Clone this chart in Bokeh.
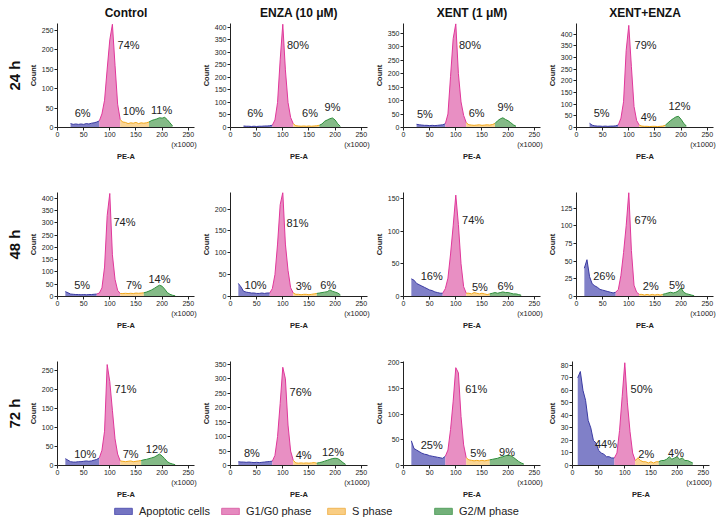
from bokeh.plotting import figure
from bokeh.layouts import column, row
from bokeh.models import (Range1d, FixedTicker, LinearAxis, Label, Title,
                          Legend, LegendItem)
from bokeh.embed import file_html
from bokeh.resources import INLINE

FONT = "Liberation Sans"

# ---------------- data ----------------
treatments = ["Control", "ENZA (10 μM)", "XENT (1 μM)", "XENT+ENZA"]
timepoints = ["24 h", "48 h", "72 h"]
phases = ["Apoptotic cells", "G1/G0 phase", "S phase", "G2/M phase"]
x_ticks = [0, 50, 100, 150, 200, 250]
BIN = 5  # PE-A spacing of the count samples (x1000)

h24_control = [10, 8, 9, 8, 9, 8, 10, 9, 11, 12, 14, 17,
               35, 70, 150, 225, 265, 160, 60, 20,
               14, 13, 10, 12, 11, 13, 10, 12, 11, 12, 14,
               18, 20, 22, 25, 24, 26, 20, 12, 4]
h24_enza = [6, 5, 5, 4, 5, 4, 5, 5, 6, 6, 7, 9,
            30, 100, 270, 412, 230, 100, 40, 15,
            7, 6, 5, 6, 5, 6, 5, 6, 7, 9,
            14, 25, 30, 35, 38, 30, 15, 5]
h24_xent = [12, 10, 9, 8, 8, 7, 8, 7, 8, 9, 10, 14,
            50, 190, 330, 385, 200, 95, 45, 18,
            10, 9, 8, 9, 10, 8, 9, 10, 9, 11, 15,
            25, 32, 36, 30, 25, 18, 10, 5]
h24_combo = [18, 10, 7, 6, 6, 5, 6, 5, 6, 6, 7, 11,
             40, 110, 330, 437, 260, 90, 30, 10,
             6, 5, 5, 4, 5, 5, 4, 5, 6, 10,
             20, 30, 38, 45, 48, 35, 18, 6]
h48_control = [20, 15, 10, 9, 8, 8, 7, 8, 7, 8, 8, 9, 10,
               14, 35, 120, 330, 420, 170, 70, 25, 12,
               12, 13, 12, 13, 12, 14, 13, 14, 15,
               18, 22, 27, 33, 40, 46, 42, 30, 16, 9, 5, 3]
h48_enza = [30, 22, 12, 10, 9, 8, 8, 7, 7, 8, 7, 8, 8,
            18, 50, 120, 210, 238, 120, 60, 20, 8,
            5, 5, 4, 5, 5, 4, 5, 6, 7,
            8, 9, 10, 11, 15, 12, 10, 8, 4]
h48_xent = [27, 25, 20, 18, 16, 14, 12, 10, 9, 7, 6, 5, 5,
            12, 28, 65, 108, 155, 110, 50, 15, 5,
            5, 4, 6, 5, 4, 5, 4, 3, 4,
            5, 6, 5, 6, 7, 6, 6, 5, 4, 4, 3, 2]
h48_combo = [40, 52, 28, 18, 15, 13, 10, 9, 8, 7, 6, 5, 6,
             10, 30, 62, 100, 147, 65, 16, 6, 3,
             3, 2, 3, 2, 3, 2, 3, 2, 3,
             4, 5, 6, 5, 6, 8, 12, 6, 4, 3, 2, 1]
h72_control = [18, 14, 10, 9, 9, 10, 10, 11, 12, 11, 12, 14, 16, 20,
               40, 90, 265, 220, 145, 70, 30, 12,
               11, 10, 11, 12, 10, 11, 12, 13,
               15, 16, 18, 20, 22, 26, 30, 25, 18, 10, 6, 4, 2]
h72_enza = [13, 12, 12, 11, 12, 11, 10, 11, 10, 11, 12, 13, 14, 15,
            35, 100, 215, 340, 300, 140, 50, 18,
            9, 8, 9, 8, 9, 8, 9, 10, 8,
            10, 12, 15, 18, 21, 24, 25, 24, 18, 10, 4]
h72_xent = [48, 33, 30, 27, 24, 22, 21, 19, 18, 17, 16, 15, 14, 18,
            30, 70, 125, 190, 180, 95, 40, 15,
            11, 10, 9, 10, 9, 10, 9, 10, 11,
            12, 13, 14, 16, 17, 19, 20, 19, 16, 12, 8, 5, 3]
h72_combo = [70, 75, 60, 52, 36, 30, 20, 18, 12, 10, 9, 7, 7, 6, 6,
             10, 28, 55, 82, 50, 27, 10, 4,
             6, 4, 3, 3, 2, 3, 2, 3, 3,
             4, 4, 5, 7, 5, 6, 7, 5, 6, 4, 4, 3, 2]

hists = [[h24_control, h24_enza, h24_xent, h24_combo],
         [h48_control, h48_enza, h48_xent, h48_combo],
         [h72_control, h72_enza, h72_xent, h72_combo]]
starts = [[25, 25, 25, 25], [15, 15, 15, 15], [15, 15, 15, 10]]
gates = [[(80, 120, 175), (80, 120, 170), (80, 120, 175), (80, 120, 170)],
         [(75, 120, 165), (75, 120, 165), (75, 120, 165), (75, 120, 165)],
         [(80, 120, 160), (80, 120, 165), (80, 120, 165), (80, 120, 165)]]
percents = [[(6, 74, 10, 11), (6, 80, 6, 9), (5, 80, 6, 9), (5, 79, 4, 12)],
            [(5, 74, 7, 14), (10, 81, 3, 6), (16, 74, 5, 6), (26, 67, 2, 5)],
            [(10, 71, 7, 12), (8, 76, 4, 12), (25, 61, 5, 9), (44, 50, 2, 4)]]
y_max = [[267, 415, 386, 445], [424, 238, 159, 147], [273, 360, 202, 83]]
y_step = [[50, 50, 50, 50], [50, 50, 50, 25], [50, 50, 50, 10]]

# ---------------- layout / style ----------------
label_pos = [
    [[(48, .14), (136, .79), (146, .16), (199, .17)],
     [(47, .14), (129, .79), (152, .14), (195, .20)],
     [(41, .13), (127, .79), (140, .14), (195, .20)],
     [(48, .14), (132, .79), (138, .10), (197, .21)]],
    [[(47, .11), (128, .72), (146, .11), (195, .17)],
     [(48, .11), (128, .71), (140, .10), (187, .11)],
     [(54, .20), (133, .74), (146, .09), (195, .10)],
     [(53, .20), (132, .74), (142, .10), (192, .11)]],
    [[(53, .11), (130, .74), (140, .11), (190, .16)],
     [(41, .12), (134, .71), (140, .10), (196, .13)],
     [(54, .20), (139, .74), (143, .12), (198, .13)],
     [(64, .21), (132, .74), (141, .11), (198, .12)]],
]
FILLS = ["#7272c2", "#e683bc", "#f9d089", "#77b37a"]
LINES = ["#3a3aa2", "#e0379a", "#f2a81c", "#2f8f3c"]
LEG_FILL = ["#7474c2", "#e589bf", "#f9cd83", "#72b079"]
LEG_LINE = ["#5656b2", "#db67a9", "#f1b654", "#56a060"]
AX = "#222222"

FW, FH = 137, 104
L1, L, R = 44, 24, 4
T1, T, B = 20, 29, 33


def panel(r, c):
    p = figure(frame_width=FW, frame_height=FH,
               x_range=Range1d(0, 262), y_range=Range1d(0, y_max[r][c]),
               output_backend="svg", toolbar_location=None,
               min_border_left=L1 if c == 0 else L, min_border_right=R,
               min_border_top=T1 if r == 0 else T, min_border_bottom=B)
    p.outline_line_color = None
    p.xgrid.visible = False
    p.ygrid.visible = False

    counts = hists[r][c]
    xs = [starts[r][c] + BIN * i for i in range(len(counts))]
    bounds = [xs[0], *gates[r][c], xs[-1]]
    segs = []
    for k in range(4):
        px = [x for x in xs if bounds[k] <= x <= bounds[k + 1]]
        py = [counts[i] for i, x in enumerate(xs) if bounds[k] <= x <= bounds[k + 1]]
        segs.append((px, py))
        p.varea(x=px, y1=[0] * len(px), y2=py, fill_color=FILLS[k], fill_alpha=0.9)
    for k, (px, py) in enumerate(segs):
        p.line(px, py, line_color=LINES[k], line_width=1)

    for ax in (p.xaxis[0], p.yaxis[0]):
        ax.axis_line_color = AX
        ax.major_tick_line_color = AX
        ax.minor_tick_line_color = None
        ax.major_tick_out = 3
        ax.major_tick_in = 0
        ax.major_label_text_font = FONT
        ax.major_label_text_font_size = "7px"
        ax.major_label_text_color = AX
        ax.major_label_standoff = 1
        ax.axis_label_text_font = FONT
        ax.axis_label_text_font_size = "7.5px"
        ax.axis_label_text_font_style = "bold"
        ax.axis_label_text_color = AX
        ax.axis_label_standoff = 1
    p.xaxis[0].ticker = FixedTicker(ticks=x_ticks)
    p.yaxis[0].ticker = FixedTicker(ticks=list(range(0, y_max[r][c] + 1, y_step[r][c])))
    p.yaxis[0].axis_label = "Count"

    # second, line-less axis: "(x1000)" under the 250 tick, then the "PE-A" title
    ax2 = LinearAxis(ticker=FixedTicker(ticks=[242]),
                     major_label_overrides={242: "(x1000)"},
                     axis_label="PE-A", axis_line_color=None,
                     major_tick_line_color=None, minor_tick_line_color=None,
                     major_tick_out=0, major_tick_in=0,
                     major_label_standoff=0, axis_label_standoff=0,
                     major_label_text_font=FONT, major_label_text_font_size="7.5px",
                     major_label_text_color=AX,
                     axis_label_text_font=FONT, axis_label_text_font_size="7.5px",
                     axis_label_text_font_style="bold", axis_label_text_color=AX)
    p.add_layout(ax2, "below")

    for k in range(4):
        x, f = label_pos[r][c][k]
        p.add_layout(Label(x=x, y=f * y_max[r][c], text=f"{percents[r][c][k]}%",
                           text_align="center", text_baseline="middle",
                           text_font=FONT, text_font_size="11px", text_color=AX))

    if r == 0:
        p.title.text = treatments[c]
        p.title.align = "center"
        p.title.text_font = FONT
        p.title.text_font_size = "12px"
        p.title.text_font_style = "bold"
        p.title.text_color = "#111111"
        p.title.standoff = 7
    if c == 0:
        p.add_layout(Title(text=timepoints[r], align="center", text_font=FONT,
                           text_font_size="15px", text_font_style="bold",
                           text_color="#111111", standoff=6), "left")
    return p


rows = [row(*[panel(r, c) for c in range(4)]) for r in range(3)]

leg = figure(width=699, height=20, x_axis_type=None, y_axis_type=None,
             x_range=Range1d(0, 1), y_range=Range1d(0, 1),
             output_backend="svg", toolbar_location=None, min_border=0)
leg.outline_line_color = None
leg_x = [112, 219, 325, 432]
for k in range(4):
    # off-range proxy glyph, only used to draw the legend swatch
    rr = leg.quad(left=[5], right=[6], top=[6], bottom=[5], fill_color=LEG_FILL[k],
                  line_color=LEG_LINE[k], line_width=1)
    lg = Legend(items=[LegendItem(label=phases[k], renderers=[rr])],
                location=(leg_x[k], 4), orientation="horizontal",
                glyph_width=22, glyph_height=8, label_height=12,
                label_standoff=5, padding=0, margin=0, spacing=0,
                border_line_color=None, background_fill_alpha=0,
                label_text_font=FONT, label_text_font_size="11px",
                label_text_color=AX)
    leg.add_layout(lg, "center")

layout = column(*rows, leg)
open("out.html", "w").write(file_html(layout, INLINE))
